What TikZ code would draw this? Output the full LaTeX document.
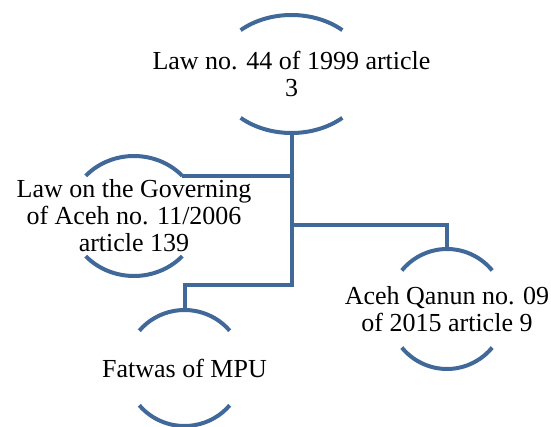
\documentclass[tikz,border=0pt]{standalone}
\usepackage{fontspec}
\setmainfont{Liberation Serif}
\usepackage{tikz}
\definecolor{arcblue}{RGB}{64,104,153}
% upper and lower arc of a node: name, x radius, y radius, start angle
\newcommand{\halfrings}[4]{%
  \draw[ring] ([shift={(#4:#2 and #3)}]#1.center) arc[start angle=#4, end angle=180-#4, x radius=#2, y radius=#3];
  \draw[ring] ([shift={(180+#4:#2 and #3)}]#1.center) arc[start angle=180+#4, end angle=360-#4, x radius=#2, y radius=#3];
}

\begin{document}
\begin{tikzpicture}[x=1pt,y=1pt,
    ring/.style={draw=arcblue, line width=4pt},
    link/.style={draw=arcblue, line width=4pt},
    lbl/.style={align=center, inner sep=0pt, font=\fontsize{26}{27}\selectfont}]
    \useasboundingbox (0,0) rectangle (551,426);

    \node[lbl](law) at (291.5,352) {Law no. 44 of 1999 article\\3};
    \node[lbl](uu) at (134,210) {Law on the Governing\\of Aceh no. 11/2006\\article 139};
    \node[lbl](qanun) at (447,117) {Aceh Qanun no. 09\\of 2015 article 9};
    \node[lbl](fatwa) at (184.5,58) {Fatwas of MPU};

    \halfrings{law}{76pt}{59pt}{48}
    \halfrings{uu}{65pt}{60pt}{42}
    \halfrings{qanun}{59pt}{60pt}{40}
    \halfrings{fatwa}{59pt}{58pt}{40}

    \coordinate(law-s) at ([yshift=-59pt]law.center);
    \coordinate(uu-e) at ([shift={(42:65pt and 60pt)}]uu.center);
    \coordinate(qanun-n) at ([yshift=60pt]qanun.center);
    \coordinate(fatwa-n) at ([yshift=58pt]fatwa.center);

    \draw[link](fatwa-n) -- ++(0,25) -| (law-s);
    \draw[link](qanun-n) -- ++(0,24) -| (law-s);
    \draw[link](uu-e) -- (uu-e -| law-s);
\end{tikzpicture}
\end{document}
